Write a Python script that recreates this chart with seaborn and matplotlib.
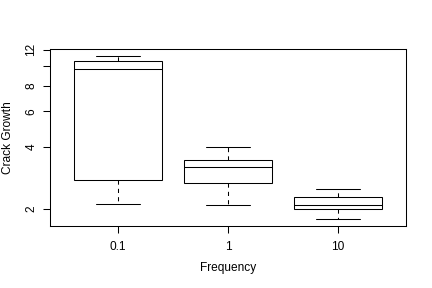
import numpy as np
import pandas as pd
import matplotlib
matplotlib.use("Agg")
import matplotlib.pyplot as plt
import seaborn as sns

# Five-number summaries (min, Q1, median, Q3, max)
frequencies = ["0.1", "1", "10"]
growth_01 = [2.11, 2.76, 9.61, 10.58, 11.25]
growth_1 = [2.08, 2.67, 3.20, 3.46, 4.01]
growth_10 = [1.77, 1.99, 2.075, 2.28, 2.50]
y_ticks = [2, 4, 6, 8, 10, 12]
y_tick_labels = ["2", "4", "6", "8", "", "12"]

df = pd.DataFrame({
    "Frequency": np.repeat(frequencies, 5),
    "Crack Growth": growth_01 + growth_1 + growth_10,
})

sns.set_style("white")
plt.rcParams["font.family"] = ["Liberation Sans", "DejaVu Sans"]
plt.rcParams["font.size"] = 8.6

fig = plt.figure(figsize=(4.32, 2.88), dpi=100)
ax = fig.add_axes([50 / 432, 1 - 226 / 288, 356 / 432, 177 / 288])

lw = 0.75
sns.boxplot(
    data=df, x="Frequency", y="Crack Growth", order=frequencies,
    log_scale=True, whis=(0, 100), width=0.8, fill=True,
    color="white", linecolor="black", linewidth=lw, ax=ax,
    whiskerprops={"linestyle": (0, (4, 4)), "linewidth": lw, "color": "black"},
    capprops={"linewidth": lw, "color": "black"},
    medianprops={"linewidth": lw, "color": "black"},
    boxprops={"linewidth": lw, "edgecolor": "black", "facecolor": "white"},
    showfliers=False,
)

ax.set_xlim(-0.62, 2.62)
ax.set_ylim(1.644, 12.11)
ax.set_yticks(y_ticks)
ax.set_yticklabels(y_tick_labels, rotation=90, va="center")
ax.yaxis.set_minor_locator(matplotlib.ticker.NullLocator())

for s in ax.spines.values():
    s.set_visible(True)
    s.set_color("black")
    s.set_linewidth(lw)

ax.tick_params(axis="both", which="major", direction="out", length=5.0,
               width=lw, color="black", labelcolor="black",
               left=True, bottom=True)
ax.tick_params(axis="x", pad=5.5)
ax.tick_params(axis="y", pad=4.0)

ax.set_xlabel("Frequency", color="black", va="center")
ax.set_ylabel("Crack Growth", color="black", va="center")
ax.xaxis.set_label_coords(0.5, (226 - 268) / 177)
ax.yaxis.set_label_coords((8 - 50) / 356, 0.5)

fig.savefig("out.png", dpi=100, facecolor="white")
